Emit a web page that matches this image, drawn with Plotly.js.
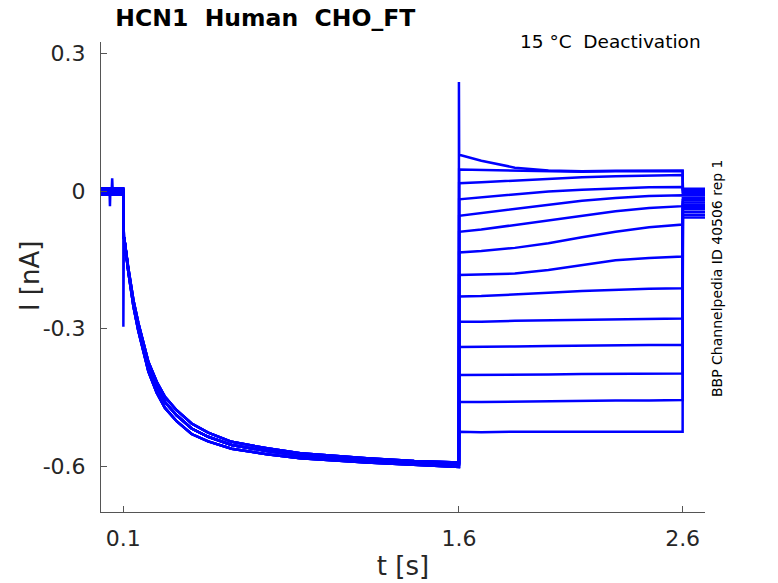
<!DOCTYPE html>
<html>
<head>
<meta charset="utf-8">
<script src="https://cdn.plot.ly/plotly-3.0.1.min.js"></script>
<style>
  html, body { margin: 0; padding: 0; background: #fff; }
  #chart { width: 778px; height: 583px; }
</style>
</head>
<body>
<div id="chart"></div>
<script>
// holding period before the step (s, nA)
const tHold = [0, 0.1];
const holdLevels = [0.004, -0.002, 0.002, -0.006, 0.0, -0.004, 0.006, -0.008, 0.001, -0.003, 0.003, -0.007, 0.005, -0.001];

// small artefact on the first sweep during holding
const tBlip = [0.038, 0.04, 0.042, 0.048, 0.05, 0.052];
const blipCurrents = [0, -0.037, 0, 0, 0.024, 0];

// capacitive spikes on the first sweep
const onSpike = -0.296;
const offSpike = 0.238;

// activation phase, three slightly different sweeps
const tAct = [0.102, 0.105, 0.122, 0.145, 0.167, 0.189, 0.212, 0.249, 0.286, 0.338, 0.405, 0.479, 0.584, 0.742, 0.891, 1.188, 1.4, 1.6];
const actFast = [-0.1, -0.108, -0.176, -0.252, -0.305, -0.35, -0.394, -0.44, -0.473, -0.502, -0.53, -0.546, -0.562, -0.574, -0.583, -0.592, -0.597, -0.602];
const actMid = [-0.1, -0.107, -0.172, -0.245, -0.296, -0.34, -0.383, -0.427, -0.46, -0.489, -0.518, -0.536, -0.554, -0.567, -0.577, -0.587, -0.592, -0.596];
const actSlow = [-0.1, -0.106, -0.168, -0.238, -0.288, -0.331, -0.373, -0.416, -0.449, -0.478, -0.507, -0.527, -0.547, -0.561, -0.572, -0.583, -0.589, -0.592];
const actForSweep = [0, 1, 2, 1, 0, 2, 1, 0, 2, 1, 0, 1, 2, 1];

// deactivation steps, one row per sweep
const tDeact = [1.601, 1.7, 1.85, 2.0, 2.15, 2.3, 2.45, 2.6];
const deactCurrents = [
  [0.079, 0.066, 0.051, 0.045, 0.043, 0.044, 0.045, 0.045],
  [0.047, 0.046, 0.044, 0.042, 0.042, 0.043, 0.043, 0.043],
  [0.017, 0.019, 0.023, 0.027, 0.030, 0.032, 0.034, 0.035],
  [-0.018, -0.014, -0.007, -0.001, 0.003, 0.006, 0.008, 0.009],
  [-0.054, -0.048, -0.038, -0.029, -0.021, -0.015, -0.011, -0.009],
  [-0.089, -0.084, -0.074, -0.063, -0.053, -0.044, -0.037, -0.033],
  [-0.134, -0.131, -0.124, -0.114, -0.101, -0.089, -0.079, -0.073],
  [-0.183, -0.182, -0.180, -0.172, -0.161, -0.151, -0.146, -0.143],
  [-0.230, -0.229, -0.226, -0.222, -0.218, -0.215, -0.213, -0.212],
  [-0.285, -0.285, -0.283, -0.282, -0.281, -0.280, -0.279, -0.278],
  [-0.340, -0.340, -0.339, -0.338, -0.337, -0.337, -0.336, -0.336],
  [-0.401, -0.401, -0.400, -0.400, -0.399, -0.399, -0.398, -0.398],
  [-0.460, -0.460, -0.459, -0.458, -0.458, -0.457, -0.457, -0.456],
  [-0.525, -0.526, -0.525, -0.525, -0.526, -0.525, -0.525, -0.525]
];

// back to holding after the step
const tTail = [2.601, 2.7];
const tailLevels = [0.005, 0.002, -0.002, -0.006, -0.01, -0.015, -0.02, -0.025, -0.03, -0.035, -0.04, -0.046, -0.052, -0.058];

const xTicks = [0.1, 1.6, 2.6];
const xTickText = ["0.1", "1.6", "2.6"];
const yTicks = [-0.6, -0.3, 0, 0.3];
const yTickText = ["-0.6", "-0.3", "0", "0.3"];

const actSets = [actFast, actMid, actSlow];
const traces = [];

for (let i = 0; i < deactCurrents.length; i++) {
  let x = [tHold[0]];
  let y = [holdLevels[i]];
  if (i === 0) {
    tBlip.forEach((t, k) => { x.push(t); y.push(holdLevels[i] + blipCurrents[k]); });
  }
  x.push(tHold[1]); y.push(holdLevels[i]);
  if (i === 0) { x.push(tHold[1]); y.push(onSpike); }
  const act = actSets[actForSweep[i]];
  x = x.concat(tAct); y = y.concat(act);
  if (i === 0) { x.push(1.6); y.push(offSpike); }
  x = x.concat(tDeact); y = y.concat(deactCurrents[i]);
  x = x.concat(tTail); y = y.concat([tailLevels[i], tailLevels[i]]);
  traces.push({
    x: x, y: y,
    type: "scatter",
    mode: "lines",
    line: { color: "#0000ff", width: 2.5 },
    hoverinfo: "skip",
    showlegend: false
  });
}

const axisColor = "#555555";
const textColor = "#262626";

const layout = {
  width: 778,
  height: 583,
  margin: { l: 101, r: 73, t: 42, b: 71, pad: 0 },
  paper_bgcolor: "#ffffff",
  plot_bgcolor: "#ffffff",
  font: { family: "DejaVu Sans", color: textColor },
  title: {
    text: "<b>HCN1\u00a0\u00a0Human\u00a0\u00a0CHO_FT</b>",
    font: { family: "DejaVu Sans", size: 23.5, color: "#000000" },
    x: 0.341, xanchor: "center",
    y: 0.969, yanchor: "middle"
  },
  xaxis: {
    range: [0, 2.7],
    tickvals: xTicks,
    ticktext: xTickText,
    ticks: "inside",
    ticklen: 6,
    tickcolor: axisColor,
    showline: true,
    linecolor: axisColor,
    linewidth: 1,
    showgrid: false,
    zeroline: false,
    tickfont: { size: 22, color: textColor },
    ticklabelstandoff: 7,
    title: { text: "t [s]", font: { size: 26, color: textColor }, standoff: 6 }
  },
  yaxis: {
    range: [-0.7, 0.325],
    tickvals: yTicks,
    ticktext: yTickText,
    ticks: "inside",
    ticklen: 6,
    tickcolor: axisColor,
    showline: true,
    linecolor: axisColor,
    linewidth: 1,
    showgrid: false,
    zeroline: false,
    tickfont: { size: 22, color: textColor },
    ticklabelstandoff: 10
  },
  annotations: [
    {
      // y axis title, placed by hand to sit closer to the tick labels
      text: "I [nA]",
      xref: "paper", yref: "paper",
      x: -0.1175, y: 0.502, xanchor: "center", yanchor: "middle",
      textangle: -90,
      showarrow: false,
      font: { size: 26, color: textColor }
    },
    {
      text: "15 °C\u00a0\u00a0Deactivation",
      xref: "paper", yref: "paper",
      x: 0.997, y: 1.002, xanchor: "right", yanchor: "middle",
      showarrow: false,
      font: { size: 18.5, color: "#000000" }
    },
    {
      text: "BBP Channelpedia ID 40506 rep 1",
      xref: "paper", yref: "paper",
      x: 1.02, y: 0.498, xanchor: "center", yanchor: "middle",
      textangle: -90,
      showarrow: false,
      font: { size: 14, color: "#000000" }
    }
  ]
};

Plotly.newPlot("chart", traces, layout, { staticPlot: true, displayModeBar: false });
</script>
</body>
</html>
